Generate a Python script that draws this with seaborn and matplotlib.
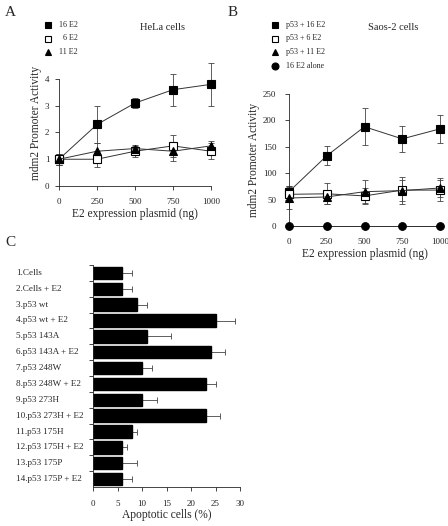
import numpy as np
import pandas as pd
import seaborn as sns
import matplotlib.pyplot as plt
import matplotlib.transforms as mtransforms

# ---- data ----
doses = [0, 250, 500, 750, 1000]

hela_16 = [1.0, 2.3, 3.1, 3.6, 3.8]
hela_16_err = [0.2, 0.7, 0.2, 0.6, 0.8]
hela_6 = [1.0, 1.0, 1.3, 1.5, 1.3]
hela_6_err = [0.2, 0.3, 0.2, 0.4, 0.3]
hela_11 = [1.0, 1.3, 1.4, 1.3, 1.5]
hela_11_err = [0.2, 0.3, 0.15, 0.35, 0.2]

saos_16 = [65, 133, 188, 165, 184]
saos_16_err = [10, 18, 35, 25, 26]
saos_6 = [60, 61, 57, 68, 68]
saos_6_err = [15, 20, 15, 20, 20]
saos_11 = [53, 55, 65, 67, 72]
saos_11_err = [20, 14, 22, 26, 18]
saos_alone = [0, 0, 0, 0, 0]
saos_alone_err = [0, 0, 0, 0, 0]

conditions = ['1.Cells', '2.Cells + E2', '3.p53 wt', '4.p53 wt + E2',
              '5.p53 143A', '6.p53 143A + E2', '7.p53 248W', '8.p53 248W + E2',
              '9.p53 273H', '10.p53 273H + E2', '11.p53 175H', '12.p53 175H + E2',
              '13.p53 175P', '14.p53 175P + E2']
apoptosis = [6, 6, 9, 25, 11, 24, 10, 23, 10, 23, 8, 6, 6, 6]
apoptosis_err = [2, 2, 2, 4, 5, 3, 2, 2, 3, 3, 1, 1, 3, 2]


def line_panel(ax, series, legend_x, legend_y, title, title_xy):
    for vals, errs, marker, face, label in series:
        df = pd.DataFrame({'dose': doses, 'val': vals})
        ax.errorbar(doses, vals, yerr=errs, fmt='none', ecolor='#444444',
                    elinewidth=0.6, capsize=2, capthick=0.6, clip_on=False, zorder=2)
        sns.lineplot(data=df, x='dose', y='val', ax=ax, color='#333333', lw=0.7,
                     marker=marker, markersize=5.5, markerfacecolor=face,
                     markeredgecolor='black', markeredgewidth=0.8,
                     clip_on=False, zorder=3)
    fig = ax.figure
    for i, (vals, errs, marker, face, label) in enumerate(series):
        y = legend_y + i * 13.5
        fig.add_artist(plt.Line2D([legend_x / 448], [1 - y / 526], marker=marker,
                                  markersize=5, markerfacecolor=face,
                                  markeredgecolor='black', markeredgewidth=0.8,
                                  linestyle='none', transform=fig.transFigure))
        fig.text((legend_x + 11) / 448, 1 - y / 526, label, fontsize=5.8,
                 va='center', ha='left')
    fig.text(title_xy[0] / 448, 1 - title_xy[1] / 526, title, fontsize=7.6,
             va='center', ha='left')
    ax.set_xlabel('E2 expression plasmid (ng)', fontsize=8.3, labelpad=1)
    ax.set_ylabel('mdm2 Promoter Activity', fontsize=8.3, labelpad=2)
    ax.set_xticks(doses)
    ax.tick_params(labelsize=6.5, length=3, width=0.6, pad=6)
    for s in ['top', 'right']:
        ax.spines[s].set_visible(False)
    for s in ['left', 'bottom']:
        ax.spines[s].set_linewidth(0.6)
    ax.spines['bottom'].set_bounds(0, 1000)


def main():
    sns.set_style('ticks')
    plt.rcParams['font.family'] = ['Liberation Serif', 'DejaVu Serif']

    fig = plt.figure(figsize=(4.48, 5.26), dpi=100)

    # panel A
    axA = fig.add_axes([59 / 448, 1 - 186 / 526, 152 / 448, 126 / 526])
    line_panel(axA, [
        (hela_16, hela_16_err, 's', 'black', '16 E2'),
        (hela_6, hela_6_err, 's', 'white', '  6 E2'),
        (hela_11, hela_11_err, '^', 'black', '11 E2'),
    ], 48, 25, 'HeLa cells', (140, 27))
    axA.set_xlim(0, 1000)
    axA.set_ylim(0, 4.71)
    axA.set_yticks([0, 1, 2, 3, 4])
    axA.spines['left'].set_bounds(0, 4)
    axA.tick_params(axis='y', pad=4)

    # panel B
    axB = fig.add_axes([289 / 448, 1 - 226 / 526, 151 / 448, 132 / 526])
    line_panel(axB, [
        (saos_16, saos_16_err, 's', 'black', 'p53 + 16 E2'),
        (saos_6, saos_6_err, 's', 'white', 'p53 + 6 E2'),
        (saos_11, saos_11_err, '^', 'black', 'p53 + 11 E2'),
        (saos_alone, saos_alone_err, 'o', 'black', '16 E2 alone'),
    ], 275, 25, 'Saos-2 cells', (368, 27))
    axB.set_xlim(0, 1000)
    axB.set_ylim(0, 250)
    axB.set_yticks([0, 50, 100, 150, 200, 250])

    # panel C
    axC = fig.add_axes([93 / 448, 1 - 487 / 526, 147 / 448, 222 / 526])
    dfc = pd.DataFrame({'cond': conditions, 'pct': apoptosis})
    sns.barplot(data=dfc, y='cond', x='pct', orient='h', color='black',
                width=0.78, ax=axC, saturation=1, edgecolor='black')
    ypos = np.arange(len(conditions))
    axC.errorbar(apoptosis, ypos, xerr=[np.zeros(len(ypos)), apoptosis_err],
                 fmt='none', ecolor='#444444', elinewidth=0.6, capsize=2,
                 capthick=0.6, zorder=0)
    axC.set_xlim(0, 30)
    axC.set_ylim(13.5, -0.5)
    axC.set_yticks(np.arange(-0.5, 13.5, 1.0))
    axC.set_yticklabels([])
    axC.set_ylabel('')
    axC.set_xticks([0, 5, 10, 15, 20, 25, 30])
    axC.set_xlabel('Apoptotic cells (%)', fontsize=8.3, labelpad=1)
    axC.tick_params(labelsize=6.5, length=3, width=0.6, pad=6)
    for s in ['top', 'right']:
        axC.spines[s].set_visible(False)
    for s in ['left', 'bottom']:
        axC.spines[s].set_linewidth(0.6)
    trans = mtransforms.blended_transform_factory(fig.transFigure, axC.transData)
    for y, lab in zip(ypos, conditions):
        axC.text(16 / 448, y, lab, transform=trans, fontsize=6.6,
                 ha='left', va='center')

    # panel letters
    fig.text(5 / 448, 1 - 12 / 526, 'A', fontsize=11, va='center')
    fig.text(228 / 448, 1 - 12 / 526, 'B', fontsize=11, va='center')
    fig.text(5 / 448, 1 - 242 / 526, 'C', fontsize=11, va='center')

    fig.savefig('out.png', dpi=100)


if __name__ == '__main__':
    main()
